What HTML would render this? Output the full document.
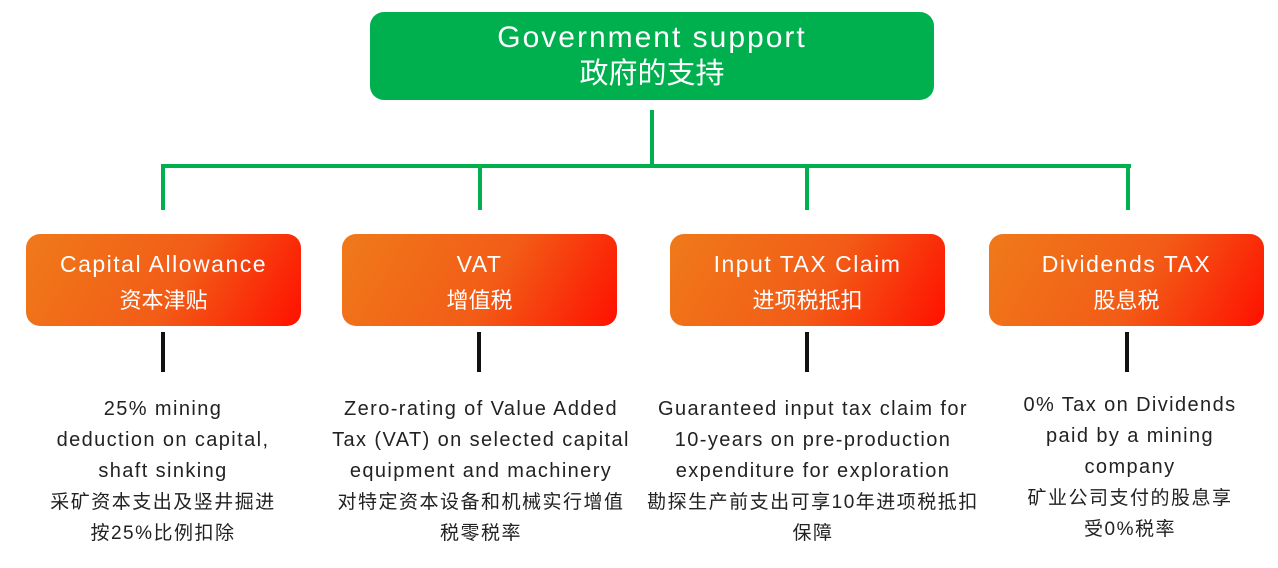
<!DOCTYPE html>
<html><head><meta charset="utf-8"><style>
body{margin:0;width:1278px;height:568px;background:#fff;position:relative;overflow:hidden;font-family:"Liberation Sans","Noto Sans CJK SC",sans-serif;color:#222}
.a{position:absolute}
.top{left:370px;top:12px;width:564px;height:88px;background:#00b04f;border-radius:14px;color:#fff;text-align:center;font-size:29px;line-height:36px;padding-top:8px;box-sizing:border-box}
.ob{position:absolute;top:234px;width:275px;height:92px;border-radius:14px;background:linear-gradient(120deg,#f07a1a 0%,#f25c17 55%,#ff1000 100%);color:#fff;text-align:center;font-size:22px;line-height:36px;padding-top:12px;box-sizing:border-box}
.ob b,.top b{font-weight:normal;letter-spacing:1.5px;font-size:23px}
.top b{letter-spacing:2px;font-size:30px}
.g{position:absolute;background:#00b04f}
.k{position:absolute;background:#111;width:4px;top:332px;height:40px}
.t{position:absolute;text-align:center;font-size:20px;letter-spacing:1.4px;line-height:31px;width:340px}
.t span{font-size:19px;letter-spacing:1.5px}
</style></head><body>
<div class="a top"><b>Government support</b><br>政府的支持</div>
<div class="g" style="left:650px;top:110px;width:4px;height:57px"></div>
<div class="g" style="left:161px;top:164px;width:970px;height:4px"></div>
<div class="g" style="left:161px;top:164px;width:4px;height:46px"></div>
<div class="g" style="left:478px;top:164px;width:4px;height:46px"></div>
<div class="g" style="left:805px;top:164px;width:4px;height:46px"></div>
<div class="g" style="left:1126px;top:164px;width:4px;height:46px"></div>
<div class="ob" style="left:26px"><b>Capital Allowance</b><br>资本津贴</div>
<div class="ob" style="left:342px"><b>VAT</b><br>增值税</div>
<div class="ob" style="left:670px"><b>Input TAX Claim</b><br>进项税抵扣</div>
<div class="ob" style="left:989px"><b>Dividends TAX</b><br>股息税</div>
<div class="k" style="left:161px"></div>
<div class="k" style="left:477px"></div>
<div class="k" style="left:805px"></div>
<div class="k" style="left:1125px"></div>
<div class="t" style="left:-7px;top:394px">25% mining<br>deduction on capital,<br>shaft sinking<br><span>采矿资本支出及竖井掘进<br>按25%比例扣除</span></div>
<div class="t" style="left:311px;top:394px">Zero-rating of Value Added<br>Tax (VAT) on selected capital<br>equipment and machinery<br><span>对特定资本设备和机械实行增值<br>税零税率</span></div>
<div class="t" style="left:643px;top:394px">Guaranteed input tax claim for<br>10-years on pre-production<br>expenditure for exploration<br><span>勘探生产前支出可享10年进项税抵扣<br>保障</span></div>
<div class="t" style="left:960px;top:390px">0% Tax on Dividends<br>paid by a mining<br>company<br><span>矿业公司支付的股息享<br>受0%税率</span></div>
</body></html>
